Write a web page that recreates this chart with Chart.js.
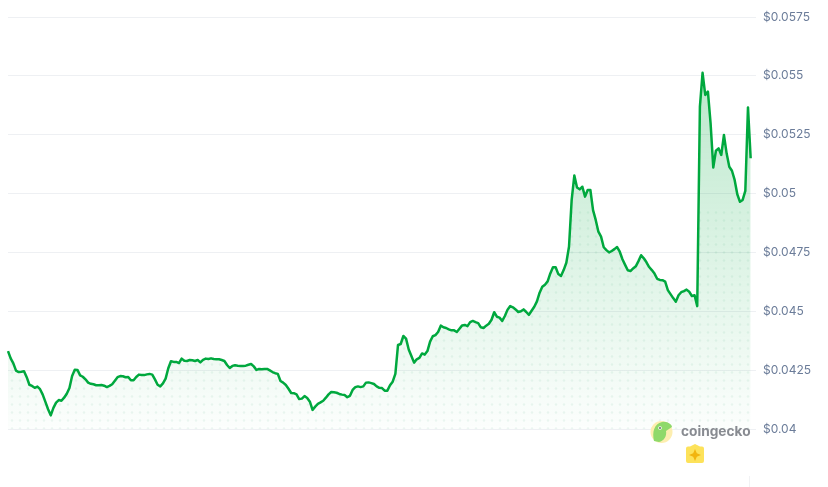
<!DOCTYPE html>
<html>
<head>
<meta charset="utf-8">
<script src="https://cdn.jsdelivr.net/npm/chart.js@4/dist/chart.umd.min.js"></script>
<style>
    body { margin: 0; background: #fff; }
    .wrap { position: relative; width: 828px; height: 487px; overflow: hidden; }
    .watermark { position: absolute; left: 0; top: 0; }
</style>
</head>
<body>
<div class="wrap">
    <canvas id="priceChart" width="828" height="487"></canvas>
    <svg class="watermark" width="828" height="487">
        <circle cx="661.5" cy="432" r="11" fill="#fdeeb0"/>
        <path d="M654 441 C652 432 654 424 662 422 C668 421 672 425 672 427 L666 431 C667 436 664 441 659 442 Z" fill="#8fd96a"/>
        <circle cx="660" cy="428" r="1.8" fill="#fff"/>
        <circle cx="660" cy="428" r="0.9" fill="#555"/>
        <text x="681" y="436" font-family="Inter, sans-serif" font-weight="700" font-size="13.7" fill="#888b91">coingecko</text>
        <path d="M690 446.5 L695 444 L700 446.5 H702 Q704 446.5 704 448.5 V461 Q704 463 702 463 H688 Q686 463 686 461 V448.5 Q686 446.5 688 446.5 Z" fill="#fde25a"/>
        <path d="M695 449 L696.8 453.2 L701 455 L696.8 456.8 L695 461 L693.2 456.8 L689 455 L693.2 453.2 Z" fill="#f2b50f"/>
        <line x1="749.5" y1="476" x2="749.5" y2="487" stroke="#f1f2f4"/>
    </svg>
</div>
<script>
// Token price, oldest sample first
const prices = [
    0.04331, 0.04300, 0.04279, 0.04248, 0.04242, 0.04243, 0.04245, 0.04220, 0.04188, 0.04183,
    0.04175, 0.04180, 0.04169, 0.04146, 0.04115, 0.04084, 0.04058, 0.04090, 0.04112, 0.04123,
    0.04120, 0.04133, 0.04150, 0.04174, 0.04225, 0.04252, 0.04251, 0.04228, 0.04222, 0.04211,
    0.04197, 0.04192, 0.04190, 0.04186, 0.04186, 0.04187, 0.04184, 0.04178, 0.04183, 0.04190,
    0.04205, 0.04220, 0.04225, 0.04224, 0.04220, 0.04221, 0.04207, 0.04207, 0.04221, 0.04231,
    0.04229, 0.04229, 0.04232, 0.04234, 0.04231, 0.04211, 0.04188, 0.04181, 0.04194, 0.04214,
    0.04258, 0.04288, 0.04285, 0.04285, 0.04280, 0.04299, 0.04290, 0.04289, 0.04293, 0.04292,
    0.04289, 0.04293, 0.04283, 0.04294, 0.04299, 0.04297, 0.04300, 0.04297, 0.04296, 0.04296,
    0.04293, 0.04289, 0.04272, 0.04259, 0.04268, 0.04271, 0.04269, 0.04268, 0.04268, 0.04269,
    0.04273, 0.04276, 0.04266, 0.04251, 0.04255, 0.04254, 0.04255, 0.04255, 0.04249, 0.04242,
    0.04237, 0.04234, 0.04204, 0.04197, 0.04187, 0.04171, 0.04153, 0.04152, 0.04147, 0.04127,
    0.04129, 0.04140, 0.04132, 0.04116, 0.04081, 0.04095, 0.04107, 0.04113, 0.04120, 0.04133,
    0.04147, 0.04157, 0.04156, 0.04154, 0.04149, 0.04146, 0.04144, 0.04135, 0.04141, 0.04166,
    0.04178, 0.04181, 0.04178, 0.04181, 0.04197, 0.04198, 0.04195, 0.04191, 0.04181, 0.04175,
    0.04174, 0.04163, 0.04163, 0.04186, 0.04201, 0.04234, 0.04357, 0.04361, 0.04395, 0.04384,
    0.04338, 0.04310, 0.04282, 0.04296, 0.04302, 0.04321, 0.04316, 0.04331, 0.04371, 0.04394,
    0.04399, 0.04412, 0.04439, 0.04432, 0.04429, 0.04423, 0.04419, 0.04419, 0.04412, 0.04426,
    0.04440, 0.04442, 0.04437, 0.04454, 0.04459, 0.04454, 0.04450, 0.04432, 0.04429, 0.04439,
    0.04447, 0.04464, 0.04496, 0.04477, 0.04473, 0.04459, 0.04480, 0.04507, 0.04522, 0.04517,
    0.04508, 0.04497, 0.04500, 0.04508, 0.04497, 0.04485, 0.04502, 0.04519, 0.04542, 0.04579,
    0.04604, 0.04613, 0.04627, 0.04661, 0.04687, 0.04687, 0.04658, 0.04650, 0.04675, 0.04706,
    0.04774, 0.04973, 0.05077, 0.05026, 0.05018, 0.05029, 0.04987, 0.05015, 0.05015, 0.04930,
    0.04888, 0.04838, 0.04817, 0.04772, 0.04760, 0.04750, 0.04756, 0.04764, 0.04773, 0.04753,
    0.04721, 0.04697, 0.04674, 0.04671, 0.04682, 0.04691, 0.04713, 0.04738, 0.04725, 0.04708,
    0.04688, 0.04675, 0.04660, 0.04638, 0.04633, 0.04632, 0.04626, 0.04590, 0.04573, 0.04556,
    0.04541, 0.04568, 0.04581, 0.04586, 0.04592, 0.04583, 0.04565, 0.04568, 0.04522,
    0.05369, 0.05513, 0.05419, 0.05433, 0.05298, 0.05111, 0.05182, 0.05192, 0.05164, 0.05249,
    0.05171, 0.05114, 0.05097, 0.05058, 0.04997, 0.04965, 0.04973, 0.05011, 0.05366, 0.05150
];

const tickValues = [0.04, 0.0425, 0.045, 0.0475, 0.05, 0.0525, 0.055, 0.0575];
const tickLabels = ['$0.04', '$0.0425', '$0.045', '$0.0475', '$0.05', '$0.0525', '$0.055', '$0.0575'];

// two blank slots at the end so the gridlines run a little past the line
const sampleLabels = prices.map((_, i) => String(i)).concat(['', '']);

const lineGreen = '#00a83e';

function areaGradient(context) {
    const area = context.chart.chartArea;
    if (!area) return 'transparent';
    const gradient = context.chart.ctx.createLinearGradient(0, area.top, 0, area.bottom);
    gradient.addColorStop(0, 'rgba(0, 168, 62, 0.3)');
    gradient.addColorStop(1, 'rgba(0, 168, 62, 0.01)');
    return gradient;
}

// Dotted texture inside the area, only on the lower part of the chart
function dotPattern() {
    const tile = document.createElement('canvas');
    tile.width = 8;
    tile.height = 488;
    const ctx = tile.getContext('2d');
    ctx.fillStyle = 'rgba(0, 140, 70, 0.065)';
    for (let row = 212.5; row < 430; row += 8) {
        ctx.beginPath();
        ctx.arc(4, row, 1.3, 0, Math.PI * 2);
        ctx.fill();
    }
    return document.getElementById('priceChart').getContext('2d').createPattern(tile, 'repeat');
}

new Chart(document.getElementById('priceChart'), {
    type: 'line',
    data: {
        labels: sampleLabels,
        datasets: [
            {
                data: prices,
                borderColor: lineGreen,
                borderWidth: 2.5,
                borderJoinStyle: 'round',
                pointRadius: 0,
                tension: 0,
                fill: 'start',
                backgroundColor: areaGradient,
                order: 1
            },
            {
                data: prices,
                borderWidth: 0,
                pointRadius: 0,
                tension: 0,
                fill: 'start',
                backgroundColor: dotPattern(),
                order: 2
            }
        ]
    },
    options: {
        responsive: false,
        animation: false,
        layout: { padding: { left: 8, top: 17, bottom: 58, right: 0 } },
        plugins: { legend: { display: false }, tooltip: { enabled: false } },
        scales: {
            x: { display: false },
            y: {
                position: 'right',
                min: 0.04,
                max: 0.0575,
                afterBuildTicks: (axis) => {
                    axis.ticks = tickValues.map(value => ({ value }));
                },
                afterFit: (axis) => {
                    axis.width = 72;
                },
                border: { display: false },
                grid: { color: '#eef0f3', lineWidth: 1, drawTicks: false },
                ticks: {
                    autoSkip: false,
                    crossAlign: 'near',
                    padding: 7,
                    color: '#6b7c99',
                    font: { family: 'Inter, sans-serif', size: 12 },
                    callback: (value) => tickLabels[tickValues.indexOf(value)]
                }
            }
        }
    }
});
</script>
</body>
</html>
